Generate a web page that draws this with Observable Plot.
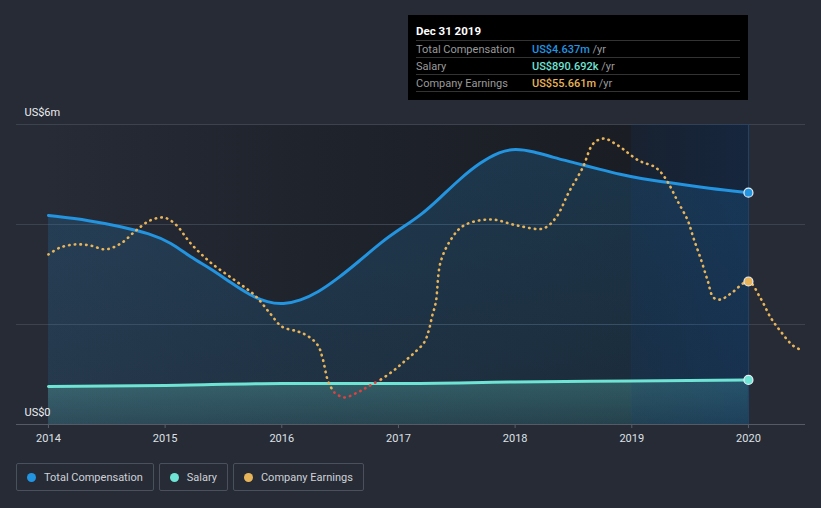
<!DOCTYPE html>
<html>
<head>
<meta charset="utf-8">
<script src="https://cdn.jsdelivr.net/npm/d3@7"></script>
<script src="https://cdn.jsdelivr.net/npm/@observablehq/plot@0.6"></script>
<style>
  html, body { margin: 0; padding: 0; background: #262b36; }
  body { width: 821px; height: 508px; position: relative; overflow: hidden; font-family: Roboto, "Noto Sans", sans-serif; }
  #chart { position: absolute; left: 0; top: 0; }
  #tip { position: absolute; left: 408px; top: 15px; width: 340px; height: 85px; background: #000; box-sizing: border-box; padding: 0 8px; }
  #tip .ttl { color: #fff; font-weight: bold; font-size: 11.5px; height: 25px; line-height: 32px; border-bottom: 1px solid #333; }
  #tip .row { height: 16px; line-height: 17px; font-size: 11px; border-bottom: 1px solid #333; position: relative; color: #9a9a9a; }
  #tip .row .v { position: absolute; left: 116px; top: 0; font-weight: 500; }
  #tip .row .u { color: #9a9a9a; font-weight: normal; }
  #legend { position: absolute; left: 16px; top: 463px; display: flex; gap: 5px; }
  #legend .item { height: 26px; border: 1px solid #4a505c; border-radius: 2px; display: flex; align-items: center; padding: 0 10px 0 10px; color: #cfd2d7; font-size: 11px; }
  #legend .dot { width: 9px; height: 9px; border-radius: 50%; margin-right: 8px; }
  svg g[aria-label^="x-axis"] line, svg g[aria-label^="x-axis"] path { stroke: #59606b; }
</style>
</head>
<body>
<div id="chart"></div>
<div id="tip"></div>
<div id="legend"></div>
<script>
// ---- data (US$ millions) ----
const compYears  = [2014.00, 2014.36, 2014.62, 2014.87, 2015.05, 2015.22, 2015.39, 2015.56, 2015.73, 2015.88, 2016.01, 2016.16, 2016.31, 2016.48, 2016.65, 2016.87, 2017.02, 2017.19, 2017.36, 2017.53, 2017.70, 2017.87, 2018.00, 2018.16, 2018.33, 2018.50, 2018.73, 2018.90, 2019.07, 2019.31, 2019.67, 2020.00];
const compValues = [4.18, 4.08, 3.96, 3.82, 3.64, 3.34, 3.12, 2.84, 2.58, 2.44, 2.40, 2.48, 2.64, 2.92, 3.24, 3.68, 3.92, 4.18, 4.54, 4.92, 5.24, 5.46, 5.52, 5.46, 5.34, 5.24, 5.10, 5.00, 4.92, 4.84, 4.72, 4.637];

const salaryYears  = [2014, 2015, 2016, 2017, 2018, 2019, 2020];
const salaryValues = [0.76, 0.78, 0.82, 0.82, 0.85, 0.87, 0.890692];

const earnYears  = [2014.00, 2014.10, 2014.23, 2014.36, 2014.49, 2014.62, 2014.75, 2014.87, 2014.99, 2015.09, 2015.22, 2015.39, 2015.60, 2015.77, 2015.90, 2016.00, 2016.14, 2016.23, 2016.31, 2016.35, 2016.40, 2016.45, 2016.53, 2016.65, 2016.74, 2016.85, 2016.96, 2017.04, 2017.13, 2017.22, 2017.26, 2017.29, 2017.32, 2017.36, 2017.45, 2017.56, 2017.79, 2018.02, 2018.24, 2018.35, 2018.46, 2018.58, 2018.67, 2018.76, 2018.88, 2019.06, 2019.19, 2019.25, 2019.31, 2019.39, 2019.48, 2019.53, 2019.59, 2019.65, 2019.70, 2019.76, 2019.85, 2020.00, 2020.10, 2020.19, 2020.27, 2020.38, 2020.46];
const earnValues = [70.3, 74.0, 75.7, 75.1, 73.0, 76.2, 83.2, 88.6, 90.2, 86.5, 76.2, 65.9, 56.2, 48.1, 38.4, 31.3, 28.6, 25.9, 21.1, 14.1, 1.1, -4.3, -7.0, -4.3, -1.1, 2.7, 7.6, 11.9, 16.8, 22.7, 29.2, 37.3, 44.3, 65.9, 78.4, 85.9, 89.2, 85.9, 84.3, 90.2, 103.8, 117.3, 130.2, 132.9, 129.2, 121.0, 117.8, 114.6, 109.2, 99.4, 88.6, 78.9, 68.1, 56.2, 47.0, 45.9, 49.2, 55.661, 47.0, 36.2, 29.2, 21.1, 18.4];

const xTicks = [2014, 2015, 2016, 2017, 2018, 2019, 2020];
const yTicks = [0, 6];
const yTickLabels = ["US$0", "US$6m"];
const gridValues = [2, 4, 6];

const tipTitle = "Dec 31 2019";
const tipRows = [
  ["Total Compensation", "US$4.637m", "#2394e0"],
  ["Salary", "US$890.692k", "#6fe3d4"],
  ["Company Earnings", "US$55.661m", "#e8b45a"]
];
const legendItems = [["Total Compensation", "#2394e0"], ["Salary", "#6fe3d4"], ["Company Earnings", "#e8b45a"]];

// ---- build tables ----
const comp = compYears.map((x, i) => ({x, v: compValues[i]}));
const salary = salaryYears.map((x, i) => ({x, v: salaryValues[i]}));
// earnings drawn on their own secondary scale, mapped into the chart's vertical range
const earnScale = d3.scaleLinear().domain([0, 55.661]).range([0.8, 2.86]);
const earn = earnYears.map((x, i) => ({x, e: earnValues[i], v: earnScale(earnValues[i])}));

const C_COMP = "#2394e0", C_SAL = "#6fe3d4", C_EARN = "#e8b45a", C_NEG = "#e0413e";
const xStart = xTicks[0], xHi = xTicks[xTicks.length - 2], xEnd = xTicks[xTicks.length - 1];

const chart = Plot.plot({
  width: 821,
  height: 454,
  marginLeft: 16,
  marginRight: 16,
  marginTop: 124,
  marginBottom: 30,
  x: {domain: [2013.726, 2020.489], ticks: xTicks, tickFormat: d => String(d), tickSize: 4, tickPadding: 6, label: null},
  y: {domain: [0, 6], axis: null},
  color: {domain: ["pos", "neg"], range: [C_EARN, C_NEG]},
  style: {background: "transparent", color: "#dfe1e5", fontFamily: "Roboto, sans-serif", fontSize: "11px", overflow: "visible"},
  marks: [
    Plot.rect([{}], {x1: xStart, x2: xHi, y1: 0, y2: 6, fill: "url(#bgGrad)"}),
    Plot.rect([{}], {x1: xHi, x2: xEnd, y1: 0, y2: 6, fill: "#1a1d23"}),
    Plot.ruleY(gridValues, {stroke: "#3c424e", strokeWidth: 1}),
    Plot.areaY(comp, {x: "x", y: "v", fill: "url(#compGrad)", curve: "basis"}),
    Plot.areaY(salary, {x: "x", y: "v", fill: "url(#salGrad)", curve: "monotone-x"}),
    Plot.rect([{}], {x1: xHi, x2: xEnd, y1: 0, y2: 6, fill: "url(#bandGrad)"}),
    Plot.ruleX([xEnd], {y1: 0, y2: 6, stroke: "#24426a", strokeWidth: 1}),
    Plot.ruleY([0], {stroke: "#545a66", strokeWidth: 1}),
    Plot.line(comp, {x: "x", y: "v", stroke: C_COMP, strokeWidth: 3, curve: "basis"}),
    Plot.line(salary, {x: "x", y: "v", stroke: C_SAL, strokeWidth: 3, curve: "monotone-x"}),
    Plot.line(earn, {x: "x", y: "v", z: null, stroke: d => d.e < 0 ? "neg" : "pos", strokeWidth: 2.6, strokeDasharray: "0.5 5.2", strokeLinecap: "round", curve: "catmull-rom"}),
    Plot.dot(comp.filter(d => d.x === xEnd), {x: "x", y: "v", r: 4.5, fill: C_COMP, stroke: "#e8eef5", strokeWidth: 1.2}),
    Plot.dot(salary.filter(d => d.x === xEnd), {x: "x", y: "v", r: 4.5, fill: C_SAL, stroke: "#e8eef5", strokeWidth: 1.2}),
    Plot.dot(earn.filter(d => d.x === xEnd), {x: "x", y: "v", r: 4.5, fill: C_EARN, stroke: "#e8eef5", strokeWidth: 1.2}),
    Plot.text(yTicks, {y: d => d, text: (d, i) => yTickLabels[i], frameAnchor: "left", textAnchor: "start", dx: 8, dy: -12, fill: "#eceef1", fontSize: 11})
  ]
});

const svg = d3.select(chart);
const defs = svg.insert("defs", ":first-child");
const bg = defs.append("linearGradient").attr("id", "bgGrad").attr("x1", 0).attr("x2", 1).attr("y1", 0).attr("y2", 0);
bg.append("stop").attr("offset", "0%").attr("stop-color", "#262b36");
bg.append("stop").attr("offset", "45%").attr("stop-color", "#1f232c");
bg.append("stop").attr("offset", "100%").attr("stop-color", "#1a1d23");
const bd = defs.append("linearGradient").attr("id", "bandGrad").attr("x1", 0).attr("x2", 1).attr("y1", 0).attr("y2", 0);
bd.append("stop").attr("offset", "0%").attr("stop-color", "#0b3d80").attr("stop-opacity", 0.14);
bd.append("stop").attr("offset", "100%").attr("stop-color", "#0b3d80").attr("stop-opacity", 0.28);
const cg = defs.append("linearGradient").attr("id", "compGrad").attr("x1", 0).attr("x2", 0).attr("y1", 0).attr("y2", 1);
cg.append("stop").attr("offset", "0%").attr("stop-color", C_COMP).attr("stop-opacity", 0.2);
cg.append("stop").attr("offset", "100%").attr("stop-color", C_COMP).attr("stop-opacity", 0.12);
const sg = defs.append("linearGradient").attr("id", "salGrad").attr("x1", 0).attr("x2", 0).attr("y1", 0).attr("y2", 1);
sg.append("stop").attr("offset", "0%").attr("stop-color", C_SAL).attr("stop-opacity", 0.26);
sg.append("stop").attr("offset", "100%").attr("stop-color", C_SAL).attr("stop-opacity", 0.12);

document.getElementById("chart").appendChild(chart);

// tooltip
const tip = d3.select("#tip");
tip.append("div").attr("class", "ttl").text(tipTitle);
tipRows.forEach(([label, value, color]) => {
  const r = tip.append("div").attr("class", "row");
  r.append("span").text(label);
  const v = r.append("span").attr("class", "v").style("color", color).text(value);
  v.append("span").attr("class", "u").text(" /yr");
});

// legend
const lg = d3.select("#legend");
legendItems.forEach(([label, color]) => {
  const it = lg.append("div").attr("class", "item");
  it.append("span").attr("class", "dot").style("background", color);
  it.append("span").text(label);
});
</script>
</body>
</html>
